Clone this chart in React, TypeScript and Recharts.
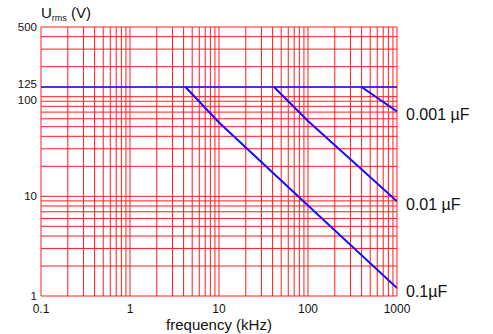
import { LineChart, Line, XAxis, YAxis, CartesianGrid, ReferenceLine } from 'recharts'

// frequency grid (kHz) – every 1..9 step of each decade
const freqTicks = [
  0.1, 0.2, 0.3, 0.4, 0.5, 0.6, 0.7, 0.8, 0.9,
  1, 2, 3, 4, 5, 6, 7, 8, 9,
  10, 20, 30, 40, 50, 60, 70, 80, 90,
  100, 200, 300, 400, 500, 600, 700, 800, 900,
  1000,
]
const freqLabels = [0.1, 1, 10, 100, 1000]

// voltage grid (V)
const voltTicks = [
  1, 2, 3, 4, 5, 6, 7, 8, 9,
  10, 20, 30, 40, 50, 60, 70, 80, 90,
  100, 125, 200, 300, 400, 500,
]
const voltLabels = [1, 10, 100, 125, 500]

const ratedVoltage = 125

// derating curves: frequency (kHz) vs Urms (V)
const cap0001Freq = [400, 1000]
const cap0001Volt = [125, 71]
const cap001Freq = [41.5, 100, 1000]
const cap001Volt = [125, 57, 8.9]
const cap01Freq = [4.2, 10, 100, 1000]
const cap01Volt = [125, 55, 8.1, 1.2]

const toPoints = (f: number[], v: number[]) => f.map((x, i) => ({ f: x, v: v[i] }))

const curves = [
  { name: '0.001 µF', data: toPoints(cap0001Freq, cap0001Volt) },
  { name: '0.01 µF', data: toPoints(cap001Freq, cap001Volt) },
  { name: '0.1µF', data: toPoints(cap01Freq, cap01Volt) },
]

const FONT = '"Liberation Sans", Arial, sans-serif'
const RED = '#ff1e1e'
const BLUE = '#1010ff'

function endLabel(name: string, count: number) {
  return (props: any) => {
    if (props.index !== count - 1) return null
    return (
      <text x={props.x + 9} y={props.y + 9} fontSize={16} fontFamily={FONT} fill="#111">
        {name}
      </text>
    )
  }
}

function renderTitle(props: any) {
  const vb = props.viewBox
  return (
    <text x={vb.x + vb.width} y={vb.y - 9} fontSize={15} fontFamily={FONT} fill="#111">
      <tspan>U</tspan>
      <tspan fontSize={9} dy={3}>rms</tspan>
      <tspan dy={-3}> (V)</tspan>
    </text>
  )
}

// 125 and 100 sit close together, so push them apart a little
function VoltTick(props: any) {
  const { x, y, payload } = props
  const v = payload.value
  if (!voltLabels.includes(v)) return null
  const shift = v === 125 ? -3 : v === 100 ? 3 : 0
  return (
    <text x={x} y={y + shift} dy="0.355em" textAnchor="end" fontSize={11.5} fontFamily={FONT} fill="#111">
      {v}
    </text>
  )
}

export default function App() {
  return (
    <div style={{ width: 493, height: 334 }}>
      <style>{'body{margin:0}'}</style>
      <LineChart width={493} height={334} margin={{ top: 27, right: 96, bottom: 0, left: 0 }}>
        <CartesianGrid stroke={RED} strokeWidth={1} />
        <XAxis
          type="number"
          dataKey="f"
          scale="log"
          domain={[0.1, 1000]}
          ticks={freqTicks}
          interval={0}
          allowDataOverflow
          height={38}
          axisLine={false}
          tickLine={false}
          tickSize={6}
          tickMargin={2}
          tick={{ fontSize: 12, fontFamily: FONT, fill: '#111' }}
          tickFormatter={(v: number) => (freqLabels.includes(v) ? String(v) : '')}
          label={{ value: 'frequency (kHz)', position: 'insideBottom', offset: 4, fontSize: 15, fontFamily: FONT, fill: '#111' }}
        />
        <YAxis
          type="number"
          dataKey="v"
          scale="log"
          domain={[1, 500]}
          ticks={voltTicks}
          interval={0}
          allowDataOverflow
          width={41}
          axisLine={false}
          tickLine={false}
          tickSize={2}
          tickMargin={2}
          tick={<VoltTick />}
          label={renderTitle}
        />
        <ReferenceLine y={ratedVoltage} stroke={BLUE} strokeWidth={1.5} ifOverflow="extendDomain" />
        {curves.map((c) => (
          <Line
            key={c.name}
            data={c.data}
            dataKey="v"
            type="linear"
            stroke={BLUE}
            strokeWidth={2}
            dot={false}
            isAnimationActive={false}
            label={endLabel(c.name, c.data.length)}
          />
        ))}
      </LineChart>
    </div>
  )
}
